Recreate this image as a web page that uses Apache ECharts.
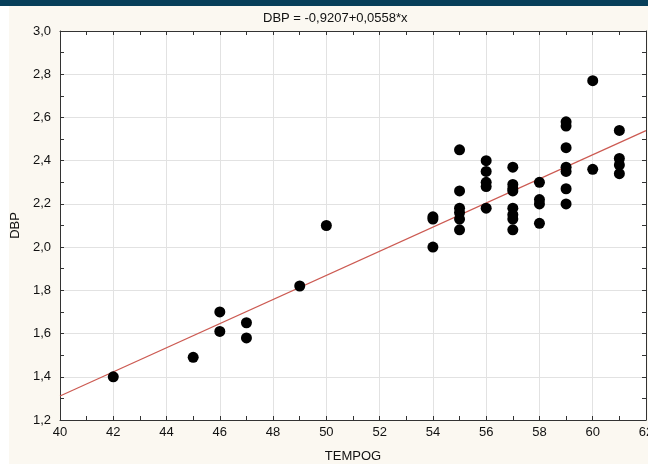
<!DOCTYPE html>
<html>
<head>
<meta charset="utf-8">
<script src="https://cdn.jsdelivr.net/npm/echarts@6/dist/echarts.min.js"></script>
<style>
html,body{margin:0;padding:0;background:#fbf8f1;}
#chart{width:648px;height:464px;}
</style>
</head>
<body>
<div id="chart"></div>
<script>
// Data
const tempog = [42,45,46,46,47,47,49,50,
  54,54,54,
  55,55,55,55,55,55,
  56,56,56,56,56,
  57,57,57,57,57,57,57,57,
  58,58,58,58,
  59,59,59,59,59,59,59,
  60,60,
  61,61,61,61];
const dbp = [1.40,1.49,1.70,1.61,1.65,1.58,1.82,2.10,
  2.14,2.13,2.00,
  2.45,2.26,2.18,2.16,2.13,2.08,
  2.40,2.35,2.30,2.28,2.18,
  2.37,2.29,2.27,2.26,2.18,2.15,2.13,2.08,
  2.30,2.22,2.20,2.11,
  2.58,2.56,2.46,2.37,2.35,2.27,2.20,
  2.77,2.36,
  2.54,2.41,2.38,2.34];
const fitIntercept = -0.9207;
const fitSlope = 0.0558;
const xRange = [40, 62];
const yRange = [1.2, 3.0];
const titleText = 'DBP = -0,9207+0,0558*x';
const xName = 'TEMPOG';
const yName = 'DBP';

const points = tempog.map((x, i) => [x, dbp[i]]);
const fitLine = xRange.map(x => [x, fitIntercept + fitSlope * x]);
const fmt = v => v.toFixed(1).replace('.', ',');
const fontFamily = '"Liberation Sans", Arial, sans-serif';

const chart = echarts.init(document.getElementById('chart'));
const axisBase = {
  type: 'value',
  axisLine: {show: true, onZero: false, lineStyle: {color: '#333', width: 1}},
  axisTick: {show: true, inside: true, length: 4, lineStyle: {color: '#333'}},
  minorTick: {show: true, splitNumber: 2, length: 4, lineStyle: {color: '#333'}},
};
chart.setOption({
  backgroundColor: '#fbf8f1',
  animation: false,
  graphic: [
    {type: 'rect', left: 0, top: 0, shape: {width: 648, height: 6}, style: {fill: '#073f5a'}, z: 100},
    {type: 'rect', left: 0, top: 6, shape: {width: 9, height: 458}, style: {fill: '#ffffff'}, z: -1}
  ],
  title: {
    text: titleText, left: 258, top: 7,
    textStyle: {fontFamily, fontSize: 13, fontWeight: 'normal', color: '#111'}
  },
  grid: {left: 60, right: 2, top: 31, bottom: 44, show: true, backgroundColor: '#ffffff', borderWidth: 0,
    outerBoundsMode: 'none', containLabel: false},
  xAxis: [
    Object.assign({}, axisBase, {
      min: xRange[0], max: xRange[1], interval: 2, position: 'bottom',
      name: xName, nameLocation: 'middle', nameGap: 30,
      nameTextStyle: {fontFamily, fontSize: 13, color: '#111'},
      axisLabel: {formatter: v => String(v), fontFamily, fontSize: 13, color: '#111', margin: 6},
      splitLine: {show: true, lineStyle: {color: '#e2e2e2'}}
    }),
    Object.assign({}, axisBase, {
      min: xRange[0], max: xRange[1], interval: 2, position: 'top',
      axisLabel: {show: false}, splitLine: {show: false}
    })
  ],
  yAxis: [
    Object.assign({}, axisBase, {
      min: yRange[0], max: yRange[1], interval: 0.2, position: 'left',
      name: yName, nameLocation: 'middle', nameGap: 35,
      nameTextStyle: {fontFamily, fontSize: 13, color: '#111'},
      axisLabel: {formatter: fmt, fontFamily, fontSize: 13, color: '#111', margin: 9},
      splitLine: {show: true, lineStyle: {color: '#e2e2e2'}}
    }),
    Object.assign({}, axisBase, {
      min: yRange[0], max: yRange[1], interval: 0.2, position: 'right',
      axisLabel: {show: false}, splitLine: {show: false}
    })
  ],
  series: [
    {
      type: 'line', data: fitLine, symbol: 'none', silent: true,
      lineStyle: {color: '#cc5a52', width: 1.2}, z: 3
    },
    {
      type: 'scatter', data: points, symbol: 'circle', symbolSize: 11,
      itemStyle: {color: '#000000', opacity: 1}, z: 4
    }
  ]
});
</script>
</body>
</html>
